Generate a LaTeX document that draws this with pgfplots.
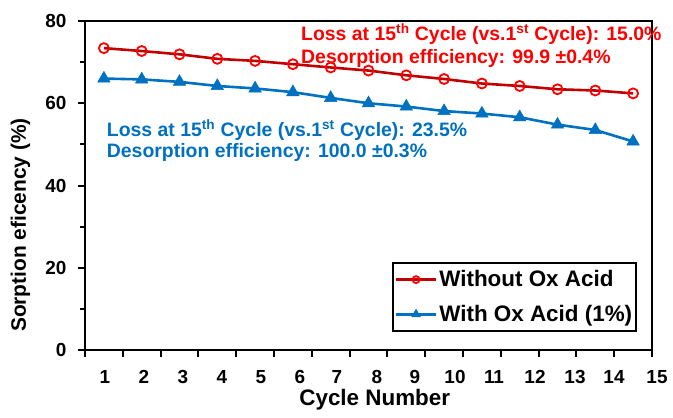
\documentclass[border=0pt]{standalone}
\usepackage{pgfplots}
\pgfplotsset{compat=1.18}
\usepackage{fontspec}
\setmainfont{Liberation Sans}
\definecolor{dred}{RGB}{192,0,0}
\definecolor{bred}{RGB}{255,0,0}
\definecolor{eblue}{RGB}{0,112,192}
\newcommand{\f}{\fontsize{19}{23}\selectfont\bfseries}
\newcommand{\ft}{\fontsize{19.5}{24}\selectfont\bfseries}
\newcommand{\fl}{\fontsize{22.5}{26}\selectfont\bfseries}
\newcommand{\fy}{\fontsize{21}{25}\selectfont\bfseries}
\begin{document}
\begin{tikzpicture}
\begin{axis}[
  scale only axis,
  width=567bp, height=329bp,
  xmin=0.5, xmax=15.5,
  ymin=0, ymax=80,
  axis line style={line width=2.2bp},
  tick style={line width=2bp, black},
  tick align=outside,
  major tick length=7bp,
  minor tick length=5bp,
  xtick={0.5,1.5,...,15.5},
  xticklabels={},
  ytick={0,20,40,60,80},
  minor ytick={10,30,50,70},
  yticklabel style={font=\f, anchor=east, xshift=-8bp},
  /pgf/number format/assume math mode=true,
  axis x line*=bottom, axis y line*=left,
  clip=false,
  xlabel={Cycle Number},
  ylabel={Sorption eficency (\%)},
  xlabel style={font=\fl, at={(axis description cs:0.511,-0.152)}, anchor=center},
  ylabel style={font=\fy, at={(axis description cs:-0.114,0.38)}, anchor=center},
  legend style={at={(axis description cs:0.9735,0.0547)}, anchor=south east,
    draw=black, line width=1.6bp, font=\fl, row sep=13bp,
    inner xsep=2bp, inner ysep=6bp},
  legend cell align=left,
  legend image code/.code={
    \draw[#1, mark=none] (0bp,0bp) -- (40bp,0bp);
    \draw[#1, only marks, every mark/.append style={scale=0.7}] plot coordinates {(20bp,0bp)};
  },
]
\addplot[color=dred, line width=2.6bp, mark=o, mark size=5bp,
  mark options={draw=bred, fill=white, line width=1.8bp}]
coordinates {
(1,73.4) (2,72.7) (3,71.9) (4,70.8) (5,70.3) (6,69.5) (7,68.7) (8,67.95)
(9,66.8) (10,65.9) (11,64.8) (12,64.2) (13,63.4) (14,63.1) (15,62.4)
};
\addlegendentry{Without Ox Acid}
\addplot[color=eblue, line width=2.6bp, mark=triangle*, mark size=7.2bp,
  mark options={fill=eblue, draw=eblue, line width=0.5bp}]
coordinates {
(1,66.0) (2,65.8) (3,65.2) (4,64.2) (5,63.6) (6,62.7) (7,61.3) (8,60.0)
(9,59.2) (10,58.1) (11,57.5) (12,56.6) (13,54.8) (14,53.5) (15,50.7)
};
\addlegendentry{With Ox Acid (1\%)}
\draw[line width=2.2bp] (rel axis cs:0,1) -- (rel axis cs:1,1) -- (rel axis cs:1,0);
\end{axis}
\foreach \p/\l in {20/1,59/2,98/3,137/4,176/5,215/6,252/7,292/8,330/9,370/10,409/11,450/12,490/13,529/14,572/15}
  \node[font=\f, anchor=center, inner sep=0pt] at (\p bp,-26.7bp) {\l};
\node[font=\ft, text=bred, anchor=base west, inner sep=0pt] at (216bp,309bp)
  {Loss at 15\textsuperscript{th} Cycle (vs.1\textsuperscript{st} Cycle): 15.0\%};
\node[font=\ft, text=bred, anchor=base west, inner sep=0pt] at (216bp,286bp)
  {Desorption efficiency: 99.9 \textpm 0.4\%};
\node[font=\ft, text=eblue, anchor=base west, inner sep=0pt] at (21.7bp,213.3bp)
  {Loss at 15\textsuperscript{th} Cycle (vs.1\textsuperscript{st} Cycle): 23.5\%};
\node[font=\ft, text=eblue, anchor=base west, inner sep=0pt] at (21.7bp,192bp)
  {Desorption efficiency: 100.0 \textpm 0.3\%};
\pgfresetboundingbox
\path[use as bounding box] (-85bp,-68bp) rectangle (588bp,350bp);
\end{tikzpicture}
\end{document}
